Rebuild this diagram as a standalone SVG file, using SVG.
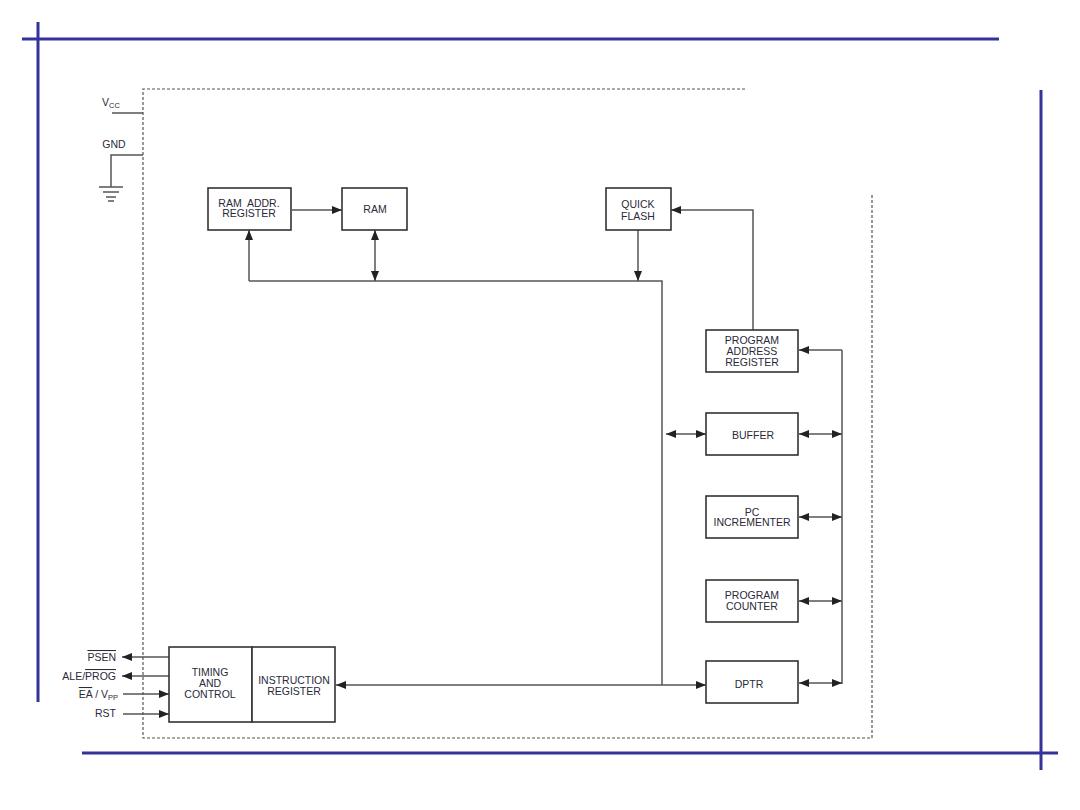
<svg xmlns="http://www.w3.org/2000/svg" width="1080" height="810" viewBox="0 0 1080 810">
<style>
.frame{stroke:#333399;stroke-width:3;fill:none}
.dot{stroke:#555;stroke-width:1.2;stroke-dasharray:3 2;fill:none}
.box{fill:#fff;stroke:#333;stroke-width:1.6}
.wire{stroke:#555;stroke-width:1.5;fill:none}
.a1{marker-end:url(#ah)}
.a2{marker-end:url(#ah);marker-start:url(#ah)}
text{font-family:"Liberation Sans",Arial,sans-serif;font-size:10.5px;fill:#2a2a3a;text-anchor:middle}
.lbl{text-anchor:end}
</style>
<defs>
<marker id="ah" markerUnits="userSpaceOnUse" markerWidth="10" markerHeight="10" viewBox="0 0 10 10" refX="10" refY="5" orient="auto-start-reverse">
<path d="M0,1 L10,5 L0,9 Z" fill="#222"/>
</marker>
</defs>
<g id="page-frame">
<line class="frame" x1="22" y1="39" x2="999" y2="39"/>
<line class="frame" x1="38" y1="22" x2="38" y2="702" stroke-width="2.5"/>
<line class="frame" x1="1041" y1="90" x2="1041" y2="770"/>
<line class="frame" x1="82" y1="753" x2="1058" y2="753"/>
</g>
<g id="chip-outline">
<path class="dot" d="M745,89 H143 V738 H872 V195"/>
</g>
<g id="power">
<text x="102" y="106" style="text-anchor:start">V<tspan font-size="7.5" dy="2">CC</tspan></text>
<line class="wire" x1="112" y1="113" x2="143" y2="113"/>
<text x="114" y="148">GND</text>
<path class="wire" d="M143,155 H111 V187"/>
<line class="wire" x1="99" y1="187" x2="123" y2="187"/>
<line class="wire" x1="103" y1="192" x2="119" y2="192"/>
<line class="wire" x1="106" y1="197" x2="116" y2="197"/>
<line class="wire" x1="108" y1="201" x2="114" y2="201"/>
</g>
<g id="connectors">
<path class="wire a1" d="M292,210 H342"/>
<path class="wire a1" d="M249,281 V230"/>
<path class="wire" d="M249,281 H662 V685"/>
<path class="wire a2" d="M375,230 V281"/>
<path class="wire a1" d="M638,230 V281"/>
<path class="wire a2" d="M666,434 H706"/>
<path class="wire a2" d="M336,685 H706"/>
<path class="wire" d="M842,350 V684"/>
<path class="wire a1" d="M842,350 H799"/>
<path class="wire a2" d="M799,434 H842"/>
<path class="wire a2" d="M799,517 H842"/>
<path class="wire a2" d="M799,601 H842"/>
<path class="wire a2" d="M799,683 H842"/>
<path class="wire a1" d="M753,330 V210 H671"/>
<path class="wire a1" d="M169,657 H122"/>
<path class="wire a1" d="M169,676 H122"/>
<path class="wire a1" d="M123,694 H169"/>
<path class="wire a1" d="M123,714 H169"/>
</g>
<g id="pins">
<text class="lbl" x="116" y="661"><tspan text-decoration="overline">PSEN</tspan></text>
<text class="lbl" x="116" y="680">ALE/<tspan text-decoration="overline">PROG</tspan></text>
<text class="lbl" x="118" y="698"><tspan text-decoration="overline">EA</tspan> / V<tspan font-size="7.5" dy="2">PP</tspan></text>
<text class="lbl" x="116" y="717">RST</text>
</g>
<g id="ram-addr-register">
<rect class="box" x="208" y="188" width="83" height="42"/>
<text x="249" y="207" xml:space="preserve">RAM  ADDR.</text>
<text x="249" y="217">REGISTER</text>
</g>
<g id="ram">
<rect class="box" x="342" y="188" width="65" height="42"/>
<text x="375" y="213">RAM</text>
</g>
<g id="quick-flash">
<rect class="box" x="606" y="188" width="65" height="42"/>
<text x="638" y="208">QUICK</text>
<text x="638" y="220">FLASH</text>
</g>
<g id="program-address-register">
<rect class="box" x="706" y="330" width="92" height="42"/>
<text x="752" y="344">PROGRAM</text>
<text x="752" y="355">ADDRESS</text>
<text x="752" y="366">REGISTER</text>
</g>
<g id="buffer">
<rect class="box" x="706" y="413" width="92" height="42"/>
<text x="753" y="439">BUFFER</text>
</g>
<g id="pc-incrementer">
<rect class="box" x="706" y="496" width="92" height="42"/>
<text x="752" y="516">PC</text>
<text x="752" y="526">INCREMENTER</text>
</g>
<g id="program-counter">
<rect class="box" x="706" y="580" width="92" height="42"/>
<text x="752" y="599">PROGRAM</text>
<text x="752" y="610">COUNTER</text>
</g>
<g id="dptr">
<rect class="box" x="706" y="661" width="92" height="42"/>
<text x="749" y="688">DPTR</text>
</g>
<g id="timing-and-control">
<rect class="box" x="169" y="647" width="83" height="75"/>
<text x="210" y="676">TIMING</text>
<text x="210" y="687">AND</text>
<text x="210" y="698">CONTROL</text>
</g>
<g id="instruction-register">
<rect class="box" x="252" y="647" width="83" height="75"/>
<text x="294" y="684">INSTRUCTION</text>
<text x="294" y="695">REGISTER</text>
</g>
</svg>
